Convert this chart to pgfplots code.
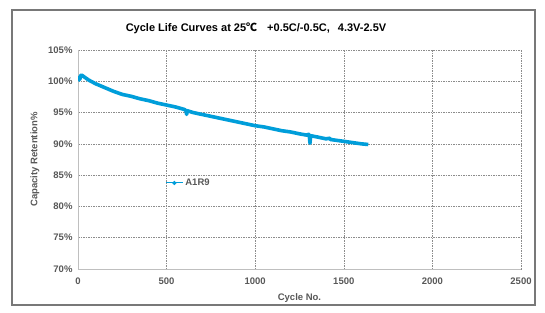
\documentclass[border=0pt]{standalone}
\usepackage{fontspec}
\setmainfont{Liberation Sans}
\newfontfamily\cjk{Noto Sans CJK SC}
\usepackage{pgfplots}
\pgfplotsset{compat=1.18}
\definecolor{curve}{RGB}{0,158,218}
\definecolor{tickgray}{RGB}{88,88,88}
\definecolor{gridgray}{RGB}{140,140,140}
\definecolor{framegray}{RGB}{120,120,120}
\begin{document}
\begin{tikzpicture}
\useasboundingbox (0bp,0bp) rectangle (545bp,313bp);
\fill[white] (0bp,0bp) rectangle (545bp,313bp);
\draw[framegray, line width=1.6bp] (12bp,8bp) rectangle (535bp,303bp);
\node[font=\bfseries\fontsize{11bp}{13bp}\selectfont] at (256bp,285bp) {Cycle Life Curves at 25{\cjk ℃}\hspace{10bp}+0.5C/-0.5C,\hspace{8bp}4.3V-2.5V};
\begin{axis}[
  at={(78bp,44bp)}, anchor=south west,
  scale only axis, width=443bp, height=219bp,
  xmin=0, xmax=2500, ymin=70, ymax=105,
  xtick={0,500,1000,1500,2000,2500},
  ytick={70,75,80,85,90,95,100,105},
  yticklabel={\pgfmathprintnumber{\tick}\%},
  /pgf/number format/assume math mode=true,
  /pgf/number format/set thousands separator={},
  tick label style={font=\bfseries\fontsize{9.5bp}{11bp}\selectfont, text=tickgray},
  label style={font=\bfseries\fontsize{9.5bp}{11bp}\selectfont, text=tickgray},
  xlabel={Cycle No.}, ylabel={Capacity Retention\%},
  xlabel style={yshift=-3bp},
  ylabel style={yshift=2bp},
  xticklabel style={yshift=-5bp},
  yticklabel style={xshift=-2bp},
  major tick length=0pt,
  grid=major,
  major grid style={gridgray, line width=0.5bp, dash pattern=on 1.5bp off 1bp},
  axis x line*=bottom, axis y line*=left,
  axis line style={draw=gray!50, line width=0.8bp, -},
  legend style={draw=none, fill=none, at={(0.19,0.393)}, anchor=west,
    font=\bfseries\fontsize{9.5bp}{11bp}\selectfont, text=tickgray},
  legend cell align=left,
]
\addplot[curve, line width=3.6bp, line join=round, forget plot] coordinates {
(0,100.0) (5,100.6) (10,100.3) (15,100.9) (20,101.0) (30,100.8) (40,100.6)
(60,100.2) (80,99.9) (100,99.6) (125,99.3) (150,99.0) (200,98.4) (250,97.9)
(300,97.6) (350,97.2) (400,96.9) (450,96.5) (500,96.2) (550,95.9) (600,95.5)
(610,95.3) (613,94.7) (616,95.3) (650,95.0) (700,94.7) (750,94.4) (800,94.1)
(850,93.8) (900,93.5) (950,93.2) (1000,92.9) (1050,92.7) (1100,92.4)
(1150,92.1) (1200,91.9) (1250,91.6) (1290,91.4) (1300,91.5) (1305,91.5)
(1309,90.1) (1313,91.3) (1350,91.1) (1400,90.8) (1420,90.9) (1425,90.7)
(1450,90.6) (1500,90.4) (1550,90.2) (1600,90.0) (1638,89.9)
};
\addlegendimage{curve, line width=1bp, mark=*, mark size=1.5bp}
\addlegendentry{A1R9}
\end{axis}
\end{tikzpicture}
\end{document}
